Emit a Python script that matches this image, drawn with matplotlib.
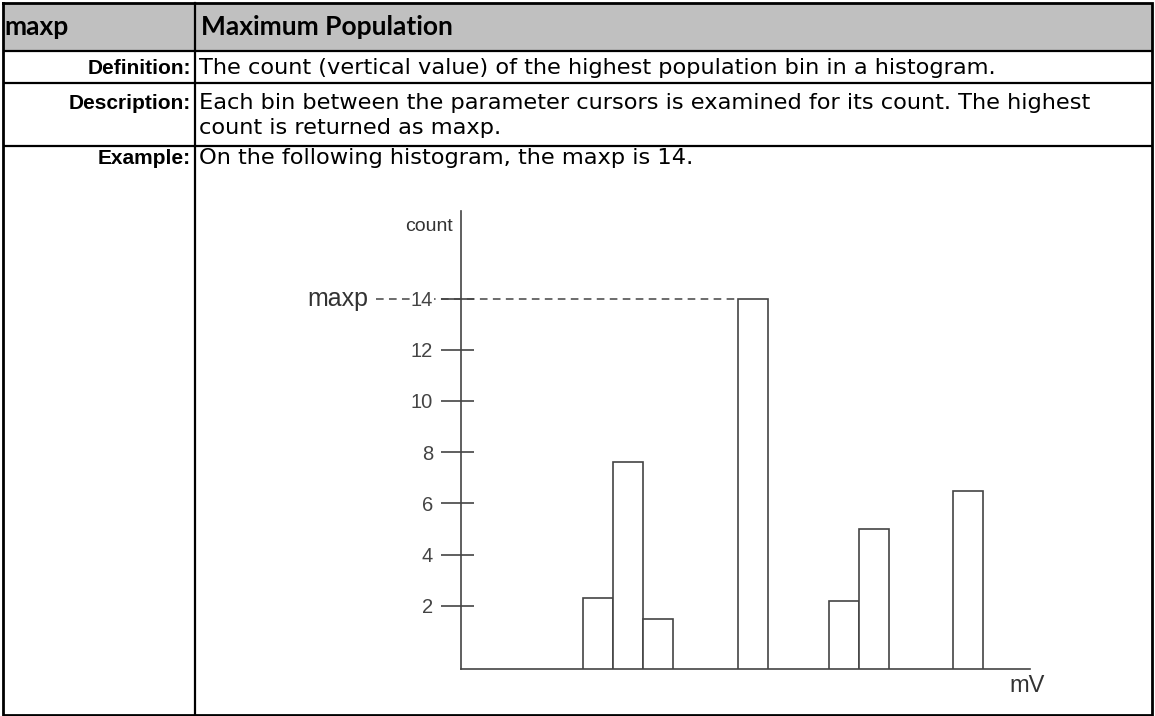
import matplotlib
matplotlib.use("Agg")
import matplotlib.pyplot as plt

# histogram bins (left edge, in bin-width units) and their counts
bin_left = [4.07, 5.06, 6.06, 9.22, 12.28, 13.27, 16.41]
counts = [2.3, 7.6, 1.5, 14, 2.2, 5.0, 6.5]
y_ticks = [2, 4, 6, 8, 10, 12, 14]

# table text
header = ["maxp", "Maximum Population"]
row_labels = ["Definition:", "Description:", "Example:"]
definition = "The count (vertical value) of the highest population bin in a histogram."
description = ["Each bin between the parameter cursors is examined for its count. The highest",
               "count is returned as maxp."]
example = "On the following histogram, the maxp is 14."

W, H = 1155, 716
fig = plt.figure(figsize=(W / 100, H / 100), dpi=100)

# --- table frame, in pixel coordinates ---
tab = fig.add_axes([0, 0, 1, 1])
tab.set_xlim(0, W)
tab.set_ylim(H, 0)
tab.axis("off")

x0, x1, xc = 3, 1152, 195
rows = [3, 50.5, 83, 146, 714.5]
tab.fill_between([x0, x1], rows[0], rows[1], color="#c0c0c0", lw=0)
for y in rows[1:-1]:
    tab.plot([x0, x1], [y, y], color="black", lw=1.6, solid_capstyle="butt")
tab.plot([xc, xc], [rows[0], rows[-1]], color="black", lw=1.6)
tab.plot([x0, x1, x1, x0, x0], [rows[0], rows[0], rows[-1], rows[-1], rows[0]],
         color="black", lw=2.0, solid_joinstyle="miter")

hfont = dict(family="Lato", weight="bold", fontsize=19, color="black")
lfont = dict(family="Liberation Sans", weight="bold", fontsize=15, color="black")
bfont = dict(family="DejaVu Sans", fontsize=16.2, color="black")
tab.text(4, 35, header[0], va="baseline", **hfont)
tab.text(201, 35, header[1], va="baseline", **hfont)

label_y = [74, 109, 164]
for lab, y in zip(row_labels, label_y):
    tab.text(191, y, lab, ha="right", va="baseline", **lfont)
tab.text(199, 74, definition, va="baseline", **bfont)
tab.text(199, 109, description[0], va="baseline", **bfont)
tab.text(199, 134, description[1], va="baseline", **bfont)
tab.text(199, 164, example, va="baseline", **bfont)

# --- histogram ---
ink = "#444444"
BASE = -0.47
ax = fig.add_axes([461 / W, 1 - 669 / H, (1030 - 461) / W, (669 - 211) / H])
ax.set_facecolor("none")
ax.set_xlim(0, 18.97)
ax.set_ylim(BASE, 17.42)
for s in ["top", "right"]:
    ax.spines[s].set_visible(False)
for s in ["left", "bottom"]:
    ax.spines[s].set_color(ink)
    ax.spines[s].set_linewidth(1.2)

ax.bar(bin_left, [c - BASE for c in counts], width=1.0, bottom=BASE, align="edge",
       facecolor="white", edgecolor=ink, linewidth=1.2, zorder=3)

ax.set_xticks([])
ax.set_yticks(y_ticks)
ax.set_yticklabels([str(t) for t in y_ticks], family="Liberation Sans", fontsize=14.5, color=ink)
ax.tick_params(axis="y", length=0, pad=20)
ax.hlines(y_ticks, -20 / 569, 13 / 569, transform=ax.get_yaxis_transform(),
          color=ink, lw=1.2, clip_on=False)
for lab in ax.get_yticklabels():
    if lab.get_text() == "14":
        lab.set_bbox(dict(facecolor="white", edgecolor="none", pad=0.5))

top = max(counts)
top_left = bin_left[counts.index(top)]
ax.plot([-2.85, top_left], [top, top], color=ink, lw=1.1, ls=(0, (5, 3.5)),
        clip_on=False, zorder=1)
ax.text(-3.1, top, "maxp", ha="right", va="center", family="Liberation Sans",
        fontsize=18, color="#333333")
ax.text(-0.27, 16.8, "count", ha="right", va="center", family="Liberation Sans",
        fontsize=14, color="#333333")
ax.text(18.3, -1.13, "mV", ha="left", va="center", family="Liberation Sans",
        fontsize=17, color="#333333", clip_on=False)

fig.savefig("out.png", dpi=100)
